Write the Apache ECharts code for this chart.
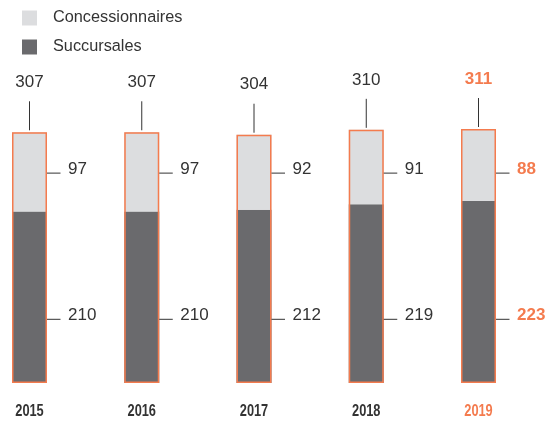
<!DOCTYPE html>
<html>
<head>
<meta charset="utf-8">
<script src="https://cdn.jsdelivr.net/npm/echarts@6/dist/echarts.min.js"></script>
<style>
  html, body { margin: 0; padding: 0; background: #fff; }
  #chart { width: 554px; height: 423px; }
</style>
</head>
<body>
<div id="chart"></div>
<script>
// data
const years = ['2015', '2016', '2017', '2018', '2019']
const succursales = [210, 210, 212, 219, 223]
const concessionnaires = [97, 97, 92, 91, 88]
const totals = [307, 307, 304, 310, 311]

const ORANGE = '#F47B4E'
const LIGHT = '#DCDDDF'
const DARK = '#6A6A6D'
const TEXT = '#333333'
const FONT = '"Liberation Sans", Arial, sans-serif'

const chart = echarts.init(document.getElementById('chart'))

const labelData = years.map((y, i) => [i, totals[i], concessionnaires[i], succursales[i]])

chart.setOption({
  animation: false,
  legend: {
    orient: 'vertical',
    left: 22,
    top: 10,
    padding: 0,
    itemWidth: 15,
    itemHeight: 15,
    itemGap: 13,
    icon: 'rect',
    data: ['Concessionnaires', 'Succursales'],
    textStyle: { fontFamily: FONT, fontSize: 16.3, color: TEXT, padding: [2, 0, 0, 11] }
  },
  grid: { left: 29.5, right: 75.5, top: 113.5, bottom: 40 },
  xAxis: {
    type: 'category',
    boundaryGap: false,
    data: years,
    axisLine: { show: false },
    axisTick: { show: false },
    // year labels are drawn by the custom series below (condensed)
    axisLabel: { show: false }
  },
  yAxis: {
    type: 'value',
    min: 0,
    max: 330,
    show: false,
    splitLine: { show: false }
  },
  series: [
    {
      name: 'Succursales',
      type: 'bar',
      stack: 'total',
      barWidth: 35,
      clip: false,
      itemStyle: { color: DARK },
      data: succursales
    },
    {
      name: 'Concessionnaires',
      type: 'bar',
      stack: 'total',
      barWidth: 35,
      clip: false,
      itemStyle: { color: LIGHT },
      data: concessionnaires
    },
    {
      name: 'outline',
      type: 'bar',
      barWidth: 35,
      barGap: '-100%',
      clip: false,
      z: 5,
      silent: true,
      itemStyle: { color: 'rgba(0,0,0,0)', borderColor: ORANGE, borderWidth: 1.5 },
      data: totals
    },
    {
      name: 'labels',
      type: 'custom',
      clip: false,
      silent: true,
      z: 6,
      data: labelData,
      renderItem: function (params, api) {
        const i = api.value(0)
        const last = i === years.length - 1
        const color = last ? ORANGE : TEXT
        const weight = last ? 'bold' : 'normal'
        const top = api.coord([i, api.value(1)])
        const base = api.coord([i, 0])
        const x = top[0]
        const yLight = api.coord([i, 257])[1]
        const yDark = api.coord([i, 78])[1]
        const lineStyle = { stroke: TEXT, lineWidth: 1 }
        const txt = (tx, ty, s, align) => ({
          type: 'text',
          style: {
            x: tx, y: ty, text: s,
            fill: color, fontSize: 17, fontWeight: weight, fontFamily: FONT,
            align: align, verticalAlign: 'middle'
          }
        })
        return {
          type: 'group',
          children: [
            { type: 'line', shape: { x1: x, y1: top[1] - 2, x2: x, y2: top[1] - 31 }, style: lineStyle },
            txt(x, top[1] - 50, String(api.value(1)), 'center'),
            { type: 'line', shape: { x1: x + 17.5, y1: yLight, x2: x + 31, y2: yLight }, style: lineStyle },
            txt(x + 38.5, yLight - 4, String(api.value(2)), 'left'),
            { type: 'line', shape: { x1: x + 17.5, y1: yDark, x2: x + 31, y2: yDark }, style: lineStyle },
            txt(x + 38.5, yDark - 4, String(api.value(3)), 'left'),
            {
              type: 'text',
              x: x,
              y: base[1] + 29,
              scaleX: 0.8,
              style: {
                x: 0, y: 0, text: years[i],
                fill: last ? ORANGE : TEXT, fontSize: 16, fontWeight: 'bold', fontFamily: FONT,
                align: 'center', verticalAlign: 'middle'
              }
            }
          ]
        }
      }
    }
  ]
})

window.addEventListener('resize', () => {
  chart.resize()
})
</script>
</body>
</html>
